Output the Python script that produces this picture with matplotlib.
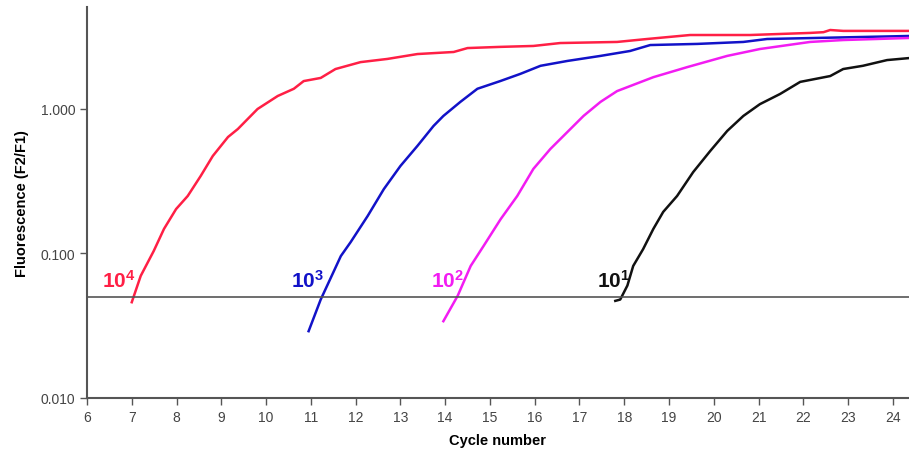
import matplotlib.pyplot as plt
import numpy as np

plt.rcParams['font.family'] = ['Liberation Sans', 'DejaVu Sans']
plt.rcParams['mathtext.fontset'] = 'custom'
plt.rcParams['mathtext.rm'] = 'Liberation Sans'
plt.rcParams['mathtext.bf'] = 'Liberation Sans:bold'

# amplification curves (cycle, F2/F1)
cyc_4 = [7.00, 7.20, 7.49, 7.72, 7.99, 8.25, 8.54, 8.81, 9.15, 9.37, 9.59, 9.81,
         10.26, 10.62, 10.84, 11.22, 11.55, 12.11, 12.71, 13.38, 14.19, 14.50,
         15.23, 15.97, 16.57, 17.84, 18.51, 19.47, 20.81, 22.15, 22.45, 22.60,
         22.89, 24.36]
val_4 = [0.046, 0.070, 0.104, 0.148, 0.203, 0.250, 0.344, 0.473, 0.640, 0.727,
         0.853, 1.00, 1.23, 1.38, 1.56, 1.64, 1.89, 2.11, 2.22, 2.40, 2.48, 2.64,
         2.69, 2.73, 2.86, 2.91, 3.05, 3.25, 3.25, 3.36, 3.40, 3.52, 3.47, 3.47]

cyc_3 = [10.95, 11.22, 11.51, 11.67, 11.89, 12.27, 12.63, 13.00, 13.38, 13.74,
         13.96, 14.34, 14.72, 15.23, 15.68, 16.13, 16.73, 17.47, 18.13, 18.58,
         19.63, 20.66, 21.19, 24.36]
val_3 = [0.029, 0.048, 0.075, 0.096, 0.120, 0.182, 0.279, 0.403, 0.555, 0.763,
         0.895, 1.12, 1.38, 1.56, 1.75, 1.99, 2.15, 2.33, 2.52, 2.77, 2.82, 2.91,
         3.05, 3.20]

cyc_2 = [13.96, 14.28, 14.57, 14.86, 15.24, 15.61, 15.97, 16.35, 16.73, 17.09,
         17.47, 17.84, 18.65, 19.41, 20.30, 21.03, 22.15, 22.89, 24.36]
val_2 = [0.034, 0.051, 0.082, 0.113, 0.173, 0.250, 0.385, 0.529, 0.693, 0.895,
         1.12, 1.33, 1.66, 1.95, 2.33, 2.60, 2.91, 3.00, 3.10]

cyc_1 = [17.80, 17.91, 18.07, 18.20, 18.42, 18.65, 18.87, 19.18, 19.54, 19.92,
         20.30, 20.66, 21.03, 21.48, 21.93, 22.60, 22.89, 23.33, 23.87, 24.36]
val_1 = [0.047, 0.048, 0.060, 0.082, 0.107, 0.148, 0.194, 0.250, 0.366, 0.512,
         0.705, 0.895, 1.08, 1.27, 1.54, 1.69, 1.89, 1.99, 2.18, 2.25]

threshold = 0.05
labels = [r'$\mathbf{10^4}$', r'$\mathbf{10^3}$', r'$\mathbf{10^2}$', r'$\mathbf{10^1}$']
label_x = [6.72, 10.93, 14.05, 17.76]
label_y = 0.066
colors = ['#ff1f45', '#1212c8', '#f21cf2', '#111111']

fig = plt.figure(figsize=(9.09, 4.56), dpi=100)
ax = fig.add_axes([0.0957, 0.125, 0.9043, 0.8575])

for c, v, col in zip([cyc_4, cyc_3, cyc_2, cyc_1], [val_4, val_3, val_2, val_1], colors):
    ax.plot(c, v, color=col, lw=1.8)

ax.axhline(threshold, color='#555555', lw=1.2)

for lab, x, col in zip(labels, label_x, colors):
    ax.text(x, label_y, lab, color=col, fontsize=15,
            ha='center', va='center')

ax.set_yscale('log')
ax.set_xlim(6, 24.36)
ax.set_ylim(0.01, 5.08)
ax.set_xticks(np.arange(6, 25))
ax.set_yticks([0.01, 0.1, 1.0])
ax.set_yticklabels(['0.010', '0.100', '1.000'])
ax.minorticks_off()

for s in ['top', 'right']:
    ax.spines[s].set_visible(False)
for s in ['left', 'bottom']:
    ax.spines[s].set_color('#555555')
    ax.spines[s].set_linewidth(1.5)

ax.tick_params(axis='both', colors='#555555', labelsize=10, length=5, width=1)
ax.tick_params(axis='x', pad=4)
for t in ax.get_xticklabels() + ax.get_yticklabels():
    t.set_color('#444444')

ax.set_xlabel('Cycle number', fontsize=10.5, fontweight='bold', labelpad=6)
ax.set_ylabel('Fluorescence (F2/F1)', fontsize=10.5, fontweight='bold', labelpad=8)

fig.savefig('out.png', dpi=100)
